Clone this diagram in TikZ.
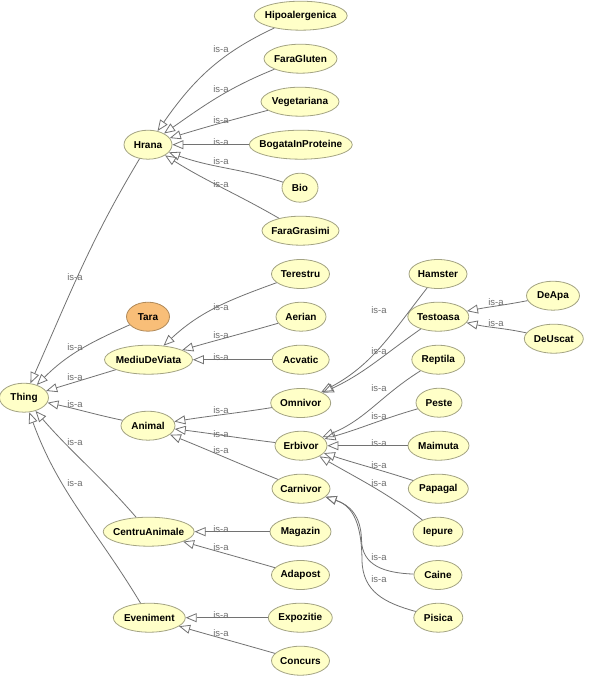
\documentclass[tikz,border=0pt]{standalone}
\usepackage{fontspec}
\setmainfont{Liberation Sans}
\usetikzlibrary{arrows.meta,shapes.geometric}
\definecolor{entfill}{HTML}{FFFFC8}
\definecolor{entdraw}{HTML}{A3A383}
\definecolor{tarafill}{HTML}{F8BE78}
\definecolor{taradraw}{HTML}{B08A5A}
\definecolor{edgegray}{HTML}{727272}
\definecolor{lblgray}{HTML}{6E6E6E}
% class names are set in a zero-width box so that the ellipse size is given only by minimum width/height
\newcommand\zw[1]{\makebox[0pt]{#1}}

\begin{document}
\begin{tikzpicture}[x=1pt,y=1pt,
  ent/.style={ellipse, draw=entdraw, fill=entfill, line width=0.8pt, inner sep=0pt,
              minimum height=29pt, font=\fontsize{10}{12}\selectfont\bfseries},
  isa/.style={draw=edgegray, line width=0.8pt, -{Triangle[open,length=11pt,width=9pt]}},
  lbl/.style={text=lblgray, font=\fontsize{9.5}{10}\selectfont, inner sep=0pt}]

\useasboundingbox (0,0) rectangle (593,-684);
\fill[white] (0,0) rectangle (593,-684);

% ---------- classes ----------
\node[ent, minimum width=49] (thing) at (24,-397.7) {\zw{Thing}};

\node[ent, minimum width=48] (hrana)  at (148,-144.7) {\zw{Hrana}};
\node[ent, minimum width=43, fill=tarafill, draw=taradraw] (tara) at (148,-316.7) {\zw{Tara}};
\node[ent, minimum width=88] (mediu)  at (148.5,-359.7) {\zw{MediuDeViata}};
\node[ent, minimum width=54] (animal) at (148,-425.7) {\zw{Animal}};
\node[ent, minimum width=91] (centru) at (148.7,-531.7) {\zw{CentruAnimale}};
\node[ent, minimum width=72] (even)   at (149.3,-617.7) {\zw{Eveniment}};

\node[ent, minimum width=93]  (hipo)   at (300.7,-15.7)  {\zw{Hipoalergenica}};
\node[ent, minimum width=73]  (gluten) at (300.5,-58.7)  {\zw{FaraGluten}};
\node[ent, minimum width=78]  (veget)  at (300,-101.7)   {\zw{Vegetariana}};
\node[ent, minimum width=103] (bogata) at (300.8,-144.7) {\zw{BogataInProteine}};
\node[ent, minimum width=36]  (bio)    at (300,-187.7)   {\zw{Bio}};
\node[ent, minimum width=77]  (grasimi) at (300.5,-230.7) {\zw{FaraGrasimi}};
\node[ent, minimum width=58]  (terestru) at (300.5,-274) {\zw{Terestru}};
\node[ent, minimum width=50]  (aerian)  at (301,-316.7)  {\zw{Aerian}};
\node[ent, minimum width=57]  (acvatic) at (300.7,-359.7) {\zw{Acvatic}};
\node[ent, minimum width=60]  (omnivor) at (300.7,-403)  {\zw{Omnivor}};
\node[ent, minimum width=52]  (erbivor) at (301,-445.7)  {\zw{Erbivor}};
\node[ent, minimum width=58]  (carnivor) at (301,-488.7) {\zw{Carnivor}};
\node[ent, minimum width=61]  (magazin) at (300.5,-531.7) {\zw{Magazin}};
\node[ent, minimum width=58]  (adapost) at (300.5,-575)  {\zw{Adapost}};
\node[ent, minimum width=64]  (expoz)   at (300.3,-617.7) {\zw{Expozitie}};
\node[ent, minimum width=58]  (concurs) at (300.5,-660.7) {\zw{Concurs}};

\node[ent, minimum width=58] (hamster)  at (438,-274)    {\zw{Hamster}};
\node[ent, minimum width=61] (testoasa) at (438.3,-316.7) {\zw{Testoasa}};
\node[ent, minimum width=53] (reptila)  at (438.3,-359.7) {\zw{Reptila}};
\node[ent, minimum width=46] (peste)    at (439,-402.7)  {\zw{Peste}};
\node[ent, minimum width=61] (maimuta)  at (438.5,-445.7) {\zw{Maimuta}};
\node[ent, minimum width=60] (papagal)  at (438.3,-488.7) {\zw{Papagal}};
\node[ent, minimum width=50] (iepure)   at (438,-531.7)  {\zw{Iepure}};
\node[ent, minimum width=48] (caine)    at (438,-575)    {\zw{Caine}};
\node[ent, minimum width=49] (pisica)   at (438.3,-617.7) {\zw{Pisica}};

\node[ent, minimum width=53] (deapa)   at (553,-295.7)   {\zw{DeApa}};
\node[ent, minimum width=59] (deuscat) at (553.8,-338.7) {\zw{DeUscat}};

% ---------- is-a edges (subclass -> superclass) ----------
\draw[isa] (hipo)    to[out=205,in=55]  (hrana);
\draw[isa] (gluten)  to[out=202,in=35]  (hrana);
\draw[isa] (veget)   to[out=195,in=17]  (hrana);
\draw[isa] (bogata)  --                 (hrana);
\draw[isa] (bio)     to[out=162,in=340] (hrana);
\draw[isa] (grasimi) to[out=150,in=328] (hrana);

\draw[isa] (hrana)  to[out=239,in=66]  (thing);
\draw[isa] (tara)   to[out=204,in=45]  (thing);
\draw[isa] (mediu)  to[out=197,in=17]  (thing);
\draw[isa] (animal) to[out=168,in=348] (thing);
\draw[isa] (centru) to[out=131,in=311] (thing);
\draw[isa] (even)   to[out=121,in=290] (thing);

\draw[isa] (terestru) to[out=200,in=43] (mediu);
\draw[isa] (aerian)   to[out=196,in=16] (mediu);
\draw[isa] (acvatic)  --                (mediu);

\draw[isa] (omnivor)  to[out=189,in=9]   (animal);
\draw[isa] (erbivor)  to[out=173,in=353] (animal);
\draw[isa] (carnivor) to[out=158,in=338] (animal);

\draw[isa] (hamster)  to[out=232,in=28] (omnivor);
\draw[isa] (testoasa) to[out=215,in=25] (omnivor);

\draw[isa] (deapa)   to[out=191,in=11]  (testoasa);
\draw[isa] (deuscat) to[out=168,in=348] (testoasa);

\draw[isa] (reptila) to[out=212,in=22]  (erbivor);
\draw[isa] (peste)   to[out=196,in=16]  (erbivor);
\draw[isa] (maimuta) --                 (erbivor);
\draw[isa] (papagal) to[out=162,in=342] (erbivor);
\draw[isa] (iepure)  to[out=143,in=330] (erbivor);

% the two Carnivor edges run left, then up a common vertical stretch
\draw[isa] (caine) .. controls (385,-573) and (362,-566) .. (361.5,-540)
                   .. controls (361,-516) and (350,-505) .. (carnivor);
\draw[isa] (pisica) .. controls (385,-603) and (362.5,-592) .. (362,-560)
                    .. controls (361.5,-518) and (350,-505) .. (carnivor);

\draw[isa] (magazin) --                 (centru);
\draw[isa] (adapost) to[out=164,in=344] (centru);

\draw[isa] (expoz)   --                 (even);
\draw[isa] (concurs) to[out=164,in=344] (even);

% ---------- edge labels ----------
\node[lbl] (l-hipo)    at (221,-49)    {is-a};
\node[lbl] (l-gluten)  at (221,-89.3)  {is-a};
\node[lbl] (l-veget)   at (221,-120)   {is-a};
\node[lbl] (l-bogata)  at (221,-142)   {is-a};
\node[lbl] (l-bio)     at (221,-161)   {is-a};
\node[lbl] (l-grasimi) at (221,-184.3) {is-a};

\node[lbl] (l-hrana)  at (75,-276.7) {is-a};
\node[lbl] (l-tara)   at (75,-347.3) {is-a};
\node[lbl] (l-mediu)  at (75,-377.3) {is-a};
\node[lbl] (l-animal) at (75,-404.3) {is-a};
\node[lbl] (l-centru) at (75,-442)   {is-a};
\node[lbl] (l-even)   at (75,-482.7) {is-a};

\node[lbl] (l-terestru) at (221,-307.3) {is-a};
\node[lbl] (l-aerian)   at (221,-335)   {is-a};
\node[lbl] (l-acvatic)  at (221,-356.7) {is-a};

\node[lbl] (l-omnivor)  at (221,-410.3) {is-a};
\node[lbl] (l-erbivor)  at (221,-433.7) {is-a};
\node[lbl] (l-carnivor) at (221,-450.3) {is-a};

\node[lbl] (l-magazin) at (221,-528.7) {is-a};
\node[lbl] (l-adapost) at (221,-546.7) {is-a};
\node[lbl] (l-expoz)   at (221,-614.7) {is-a};
\node[lbl] (l-concurs) at (221,-632.7) {is-a};

\node[lbl] (l-hamster)  at (379,-310.3) {is-a};
\node[lbl] (l-testoasa) at (379,-350.7) {is-a};
\node[lbl] (l-reptila)  at (379,-387.7) {is-a};
\node[lbl] (l-peste)    at (379,-416)   {is-a};
\node[lbl] (l-maimuta)  at (379,-442.7) {is-a};
\node[lbl] (l-papagal)  at (379,-464.8) {is-a};
\node[lbl] (l-iepure)   at (379,-482.7) {is-a};
\node[lbl] (l-caine)    at (379,-556.7) {is-a};
\node[lbl] (l-pisica)   at (379,-579.3) {is-a};

\node[lbl] (l-deapa)   at (496,-301.7) {is-a};
\node[lbl] (l-deuscat) at (496,-323.3) {is-a};
\end{tikzpicture}
\end{document}
